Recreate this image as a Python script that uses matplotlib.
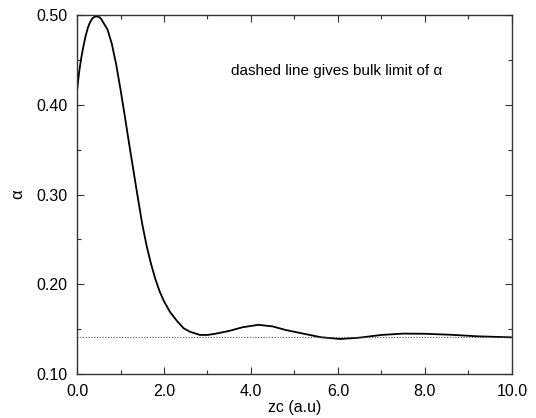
import numpy as np
import matplotlib
matplotlib.use('Agg')
import matplotlib.pyplot as plt
from matplotlib.ticker import MultipleLocator, FormatStrFormatter

plt.rcParams['font.family'] = ['Liberation Sans', 'DejaVu Sans']

# curve
zc = [0.0, 0.05, 0.1, 0.15, 0.2, 0.25, 0.3, 0.35, 0.4, 0.45, 0.5, 0.55, 0.6,
      0.7, 0.8, 0.9, 1.0, 1.1, 1.2, 1.3, 1.4, 1.5, 1.6, 1.7, 1.8, 1.9, 2.0,
      2.14, 2.3, 2.45, 2.6, 2.83, 3.0, 3.2, 3.5, 3.8, 4.17, 4.5, 4.8, 5.2,
      5.6, 6.05, 6.5, 7.0, 7.5, 8.0, 8.6, 9.2, 10.0]
alpha = [0.416, 0.437, 0.453, 0.466, 0.477, 0.486, 0.492, 0.496, 0.498, 0.4985,
         0.498, 0.496, 0.492, 0.484, 0.468, 0.445, 0.417, 0.387, 0.356, 0.326,
         0.296, 0.267, 0.243, 0.223, 0.206, 0.192, 0.181, 0.169, 0.159, 0.151,
         0.147, 0.1435, 0.1435, 0.145, 0.148, 0.152, 0.1548, 0.153, 0.149,
         0.145, 0.141, 0.139, 0.1405, 0.1435, 0.145, 0.1448, 0.1437, 0.142,
         0.1408]
bulk_alpha = 0.141

fig = plt.figure(figsize=(5.36, 4.18), dpi=100)
ax = fig.add_axes([0.1437, 0.1053, 0.8113, 0.8587])

ax.plot(zc, alpha, color='black', linewidth=1.3)
ax.axhline(bulk_alpha, color='#555555', linestyle=(0, (1, 1.5)), linewidth=0.8)

ax.set_xlim(0, 10)
ax.set_ylim(0.10, 0.50)
ax.xaxis.set_major_locator(MultipleLocator(2))
ax.xaxis.set_minor_locator(MultipleLocator(1))
ax.yaxis.set_major_locator(MultipleLocator(0.1))
ax.yaxis.set_minor_locator(MultipleLocator(0.05))
ax.xaxis.set_major_formatter(FormatStrFormatter('%.1f'))
ax.yaxis.set_major_formatter(FormatStrFormatter('%.2f'))

ax.tick_params(which='both', direction='in', top=True, right=True,
               labelsize=11.5, color='#333333')
ax.tick_params(which='major', length=5, width=0.8, pad=7)
ax.tick_params(which='minor', length=3, width=0.8)
for s in ax.spines.values():
    s.set_color('#333333')
    s.set_linewidth(1.0)

ax.set_xlabel('zc (a.u)', fontsize=11.5, labelpad=1)
ax.set_ylabel('α', fontsize=12, labelpad=8)

ax.text(0.598, 0.845, 'dashed line gives bulk limit of α',
        transform=ax.transAxes, ha='center', va='center', fontsize=11)

fig.savefig('out.png', dpi=100)
